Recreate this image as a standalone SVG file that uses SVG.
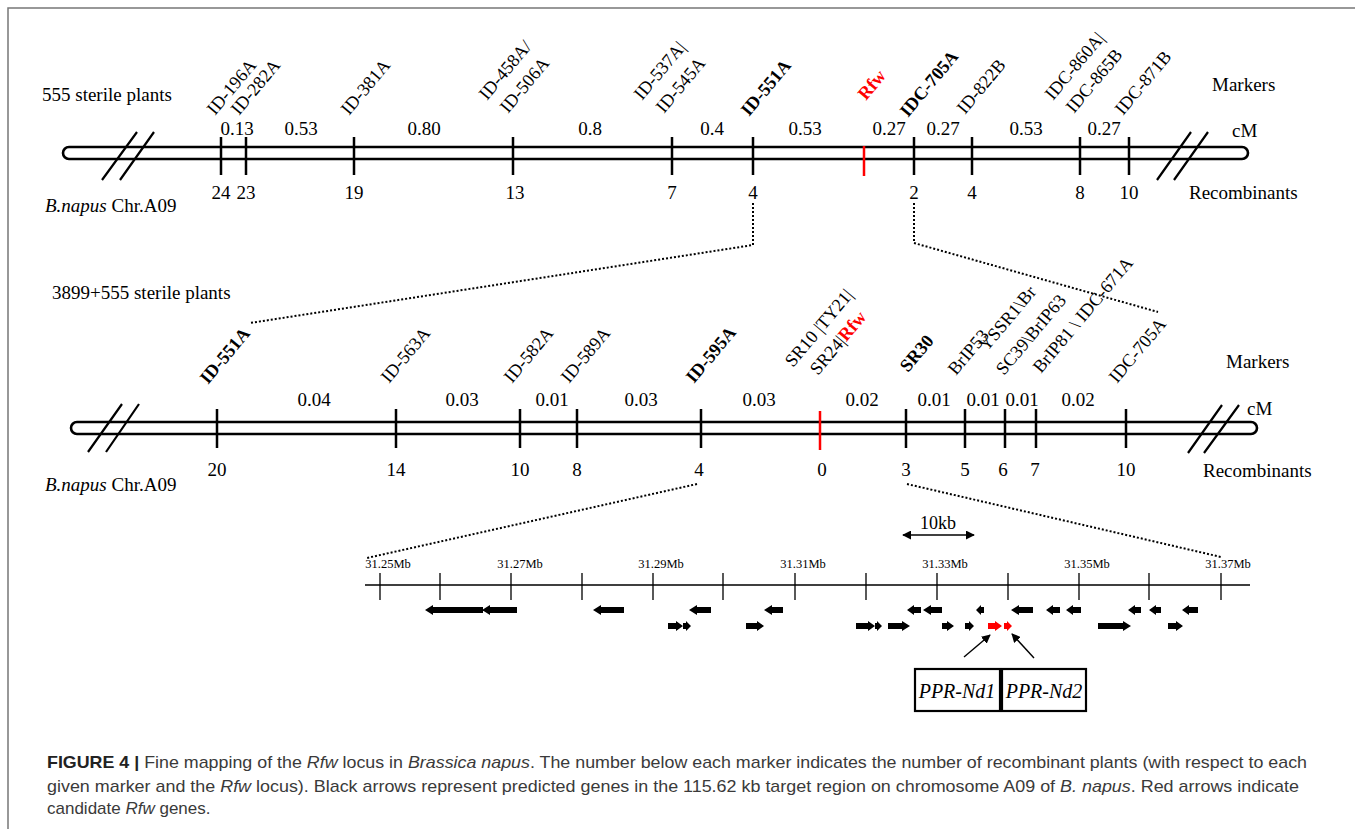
<svg xmlns="http://www.w3.org/2000/svg" width="1355" height="829" viewBox="0 0 1355 829">
<defs>
<style>
text{font-family:"Liberation Serif","Times New Roman",serif;fill:#000}
.t{font-size:19px}
.c{font-size:19px;text-anchor:middle}
.r{font-size:18.2px}
.b{font-weight:bold}
.red{fill:#ff0000}
.i{font-style:italic}
.s{font-size:12.5px;text-anchor:middle}
.chr{fill:none;stroke:#000;stroke-width:2.6}
.tk{stroke:#000;stroke-width:2.5}
.tkr{stroke:#ff0000;stroke-width:2.5}
.brk{stroke:#000;stroke-width:2.2}
.dot{fill:none;stroke:#000;stroke-width:2;stroke-dasharray:2 2}
.ax{stroke:#000;stroke-width:1.3}
.g{fill:#000}
.gr{fill:#ff0000}
.box{fill:none;stroke:#000;stroke-width:2.2}
.ptr{stroke:#000;stroke-width:1.4;fill:none}
.cap{font-family:"Liberation Sans",Arial,sans-serif;font-size:17px;fill:#3a3a3a}
</style>
<marker id="ah" viewBox="0 0 10 10" refX="9" refY="5" markerWidth="9" markerHeight="9" markerUnits="userSpaceOnUse" orient="auto-start-reverse">
<path d="M0,0 L10,5 L0,10 Z" fill="#000"/>
</marker>
</defs>
<path d="M8 829 V8 H1355" fill="none" stroke="#777" stroke-width="1.5"/>

<g id="chromosome-top">
<rect class="chr" x="63" y="147" width="1185" height="12" rx="6"/>
<path class="tk" d="M221 137V175M246 137V175M354 137V175M513 137V175M672 137V175M753 137V175M914 137V175M972 137V175M1080 137V175M1129 137V175"/>
<path class="tkr" d="M864 146V176"/>
<path class="brk" d="M102 180L137 132M120 180L154 132M1157 180L1191 132M1174 180L1208 132"/>
<text class="t" x="42" y="101">555 sterile plants</text>
<text class="t" x="45" y="212"><tspan class="i">B.napus</tspan> Chr.A09</text>
<text class="t" x="1212" y="91">Markers</text>
<text class="t" x="1232" y="137">cM</text>
<text class="t" x="1189" y="199">Recombinants</text>
<text class="c" x="237" y="135">0.13</text>
<text class="c" x="301" y="135">0.53</text>
<text class="c" x="424" y="135">0.80</text>
<text class="c" x="590" y="135">0.8</text>
<text class="c" x="712" y="135">0.4</text>
<text class="c" x="805" y="135">0.53</text>
<text class="c" x="889" y="135">0.27</text>
<text class="c" x="943" y="135">0.27</text>
<text class="c" x="1026" y="135">0.53</text>
<text class="c" x="1104" y="135">0.27</text>
<text class="c" x="221" y="199">24</text>
<text class="c" x="246" y="199">23</text>
<text class="c" x="354" y="199">19</text>
<text class="c" x="515" y="199">13</text>
<text class="c" x="672" y="199">7</text>
<text class="c" x="753" y="199">4</text>
<text class="c" x="914" y="199">2</text>
<text class="c" x="972" y="199">4</text>
<text class="c" x="1080" y="199">8</text>
<text class="c" x="1129" y="199">10</text>
<text class="r" x="215" y="116" transform="rotate(-50 215 116)">ID-196A</text>
<text class="r" x="239" y="116" transform="rotate(-50 239 116)">ID-282A</text>
<text class="r" x="349" y="116" transform="rotate(-50 349 116)">ID-381A</text>
<text class="r" x="487" y="101" transform="rotate(-50 487 101)">ID-458A/</text>
<text class="r" x="508" y="114" transform="rotate(-50 508 114)">ID-506A</text>
<text class="r" x="642" y="101" transform="rotate(-50 642 101)">ID-537A|</text>
<text class="r" x="664" y="114" transform="rotate(-50 664 114)">ID-545A</text>
<text class="r b" x="749" y="117" transform="rotate(-50 749 117)">ID-551A</text>
<text class="r b red" x="866" y="101" transform="rotate(-50 866 101)">Rfw</text>
<text class="r b" x="908" y="118" transform="rotate(-50 908 118)">IDC-705A</text>
<text class="r" x="965" y="115" transform="rotate(-50 965 115)">ID-822B</text>
<text class="r" x="1053" y="101" transform="rotate(-50 1053 101)">IDC-860A|</text>
<text class="r" x="1074" y="114" transform="rotate(-50 1074 114)">IDC-865B</text>
<text class="r" x="1123" y="116" transform="rotate(-50 1123 116)">IDC-871B</text>
</g>

<g id="chromosome-middle">
<rect class="chr" x="71" y="422" width="1186" height="12" rx="6"/>
<path class="tk" d="M217 409V448M396 409V448M520 409V448M577 409V448M701 409V448M906 409V448M965 409V448M1005 409V448M1036 409V448M1126 409V448"/>
<path class="tkr" d="M820 411V450"/>
<path class="brk" d="M88 452L122 404M106 452L139 404M1188 453L1222 405M1204 453L1239 405"/>
<text class="t" x="52" y="299">3899+555 sterile plants</text>
<text class="t" x="45" y="491"><tspan class="i">B.napus</tspan> Chr.A09</text>
<text class="t" x="1226" y="368">Markers</text>
<text class="t" x="1247" y="415">cM</text>
<text class="t" x="1203" y="477">Recombinants</text>
<text class="c" x="314" y="406">0.04</text>
<text class="c" x="462" y="406">0.03</text>
<text class="c" x="552" y="406">0.01</text>
<text class="c" x="641" y="406">0.03</text>
<text class="c" x="759" y="406">0.03</text>
<text class="c" x="862" y="406">0.02</text>
<text class="c" x="934" y="406">0.01</text>
<text class="c" x="983" y="406">0.01</text>
<text class="c" x="1022" y="406">0.01</text>
<text class="c" x="1078" y="406">0.02</text>
<text class="c" x="217" y="476">20</text>
<text class="c" x="396" y="476">14</text>
<text class="c" x="520" y="476">10</text>
<text class="c" x="577" y="476">8</text>
<text class="c" x="699" y="476">4</text>
<text class="c" x="822" y="476">0</text>
<text class="c" x="906" y="476">3</text>
<text class="c" x="965" y="476">5</text>
<text class="c" x="1003" y="476">6</text>
<text class="c" x="1035" y="476">7</text>
<text class="c" x="1126" y="476">10</text>
<text class="r b" x="208" y="385" transform="rotate(-50 208 385)">ID-551A</text>
<text class="r" x="389" y="384" transform="rotate(-50 389 384)">ID-563A</text>
<text class="r" x="512" y="384" transform="rotate(-50 512 384)">ID-582A</text>
<text class="r" x="569" y="384" transform="rotate(-50 569 384)">ID-589A</text>
<text class="r b" x="694" y="384" transform="rotate(-50 694 384)">ID-595A</text>
<text class="r" x="793" y="368" transform="rotate(-50 793 368)">SR10 |TY21|</text>
<text class="r" x="818" y="376" transform="rotate(-50 818 376)">SR24|<tspan class="b red">Rfw</tspan></text>
<text class="r b" x="908" y="373" transform="rotate(-50 908 373)">SR30</text>
<text class="r" x="956" y="376" transform="rotate(-50 956 376)">BrIP53</text>
<text class="r" x="987" y="352" transform="rotate(-50 987 352)">YSSR1\Br</text>
<text class="r" x="1004" y="376" transform="rotate(-50 1004 376)">SC39\BrIP63</text>
<text class="r" x="1041" y="374" transform="rotate(-50 1041 374)">BrIP81 \ IDC-671A</text>
<text class="r" x="1117" y="384" transform="rotate(-50 1117 384)">IDC-705A</text>
</g>

<g id="physical-map">
<path class="ax" d="M365 585H1250M380 573V600M440 573V600M511 573V600M582 573V600M653 573V600M723 573V600M795 573V600M866 573V600M937 573V600M1008 573V600M1079 573V600M1149 573V600M1221 573V600"/>
<text class="s" x="388" y="568">31.25Mb</text>
<text class="s" x="520" y="568">31.27Mb</text>
<text class="s" x="661" y="568">31.29Mb</text>
<text class="s" x="803" y="568">31.31Mb</text>
<text class="s" x="945" y="568">31.33Mb</text>
<text class="s" x="1087" y="568">31.35Mb</text>
<text class="s" x="1228" y="568">31.37Mb</text>
<text x="938" y="529" style="font-size:18px;text-anchor:middle">10kb</text>
<path class="ptr" d="M903 535H974" marker-start="url(#ah)" marker-end="url(#ah)"/>
</g>

<g id="genes">
<path class="g" d="M425 610L433 605V607H483V613H433V615Z M482 610L490 605V607H517V613H490V615Z M593 610L601 605V607H624V613H601V615Z M689 610L697 605V607H711V613H697V615Z M764 610L772 605V607H783V613H772V615Z M907 610L914 605V607H921V613H914V615Z M923 610L931 605V607H942V613H931V615Z M976 610L981 605V607H984V613H981V615Z M1011 610L1019 605V607H1033V613H1019V615Z M1046 610L1053 605V607H1060V613H1053V615Z M1066 610L1073 605V607H1081V613H1073V615Z M1128 610L1135 605V607H1141V613H1135V615Z M1149 610L1156 605V607H1161V613H1156V615Z M1182 610L1189 605V607H1198V613H1189V615Z"/>
<path class="g" d="M683 626L676 621V623H668V629H676V631Z M691 626L686 621V623H683V629H686V631Z M764 626L757 621V623H746V629H757V631Z M875 626L868 621V623H856V629H868V631Z M882 626L877 621V623H875V629H877V631Z M910 626L902 621V623H888V629H902V631Z M954 626L947 621V623H942V629H947V631Z M974 626L969 621V623H965V629H969V631Z M1131 626L1123 621V623H1098V629H1123V631Z M1183 626L1176 621V623H1168V629H1176V631Z"/>
<path class="gr" d="M1002 626L995 621V623H988V629H995V631Z M1012 626L1007 621V623H1004V629H1007V631Z"/>
</g>

<g id="candidate-boxes">
<rect class="box" x="915" y="669" width="85" height="42"/>
<rect class="box" x="1002" y="669" width="84" height="42"/>
<text class="i" x="957" y="698" style="font-size:20px;text-anchor:middle">PPR-Nd1</text>
<text class="i" x="1044" y="698" style="font-size:20px;text-anchor:middle">PPR-Nd2</text>
</g>

<g id="connectors">
<path class="dot" d="M753 203V245L250 323"/>
<path class="dot" d="M914 203V243L1158 312"/>
<path class="dot" d="M697 484L367 558"/>
<path class="dot" d="M907 484L1221 557"/>
<path class="ptr" d="M964 657L990 635" marker-end="url(#ah)"/>
<path class="ptr" d="M1034 658L1012 634" marker-end="url(#ah)"/>
</g>

<g id="caption">
<text class="cap" x="47" y="768" textLength="1260" lengthAdjust="spacingAndGlyphs"><tspan style="font-weight:bold;fill:#222">FIGURE 4 |</tspan> Fine mapping of the <tspan class="i">Rfw</tspan> locus in <tspan class="i">Brassica napus</tspan>. The number below each marker indicates the number of recombinant plants (with respect to each</text>
<text class="cap" x="47" y="792" textLength="1252" lengthAdjust="spacingAndGlyphs">given marker and the <tspan class="i">Rfw</tspan> locus). Black arrows represent predicted genes in the 115.62 kb target region on chromosome A09 of <tspan class="i">B. napus</tspan>. Red arrows indicate</text>
<text class="cap" x="47" y="814">candidate <tspan class="i">Rfw</tspan> genes.</text>
</g>
</svg>
